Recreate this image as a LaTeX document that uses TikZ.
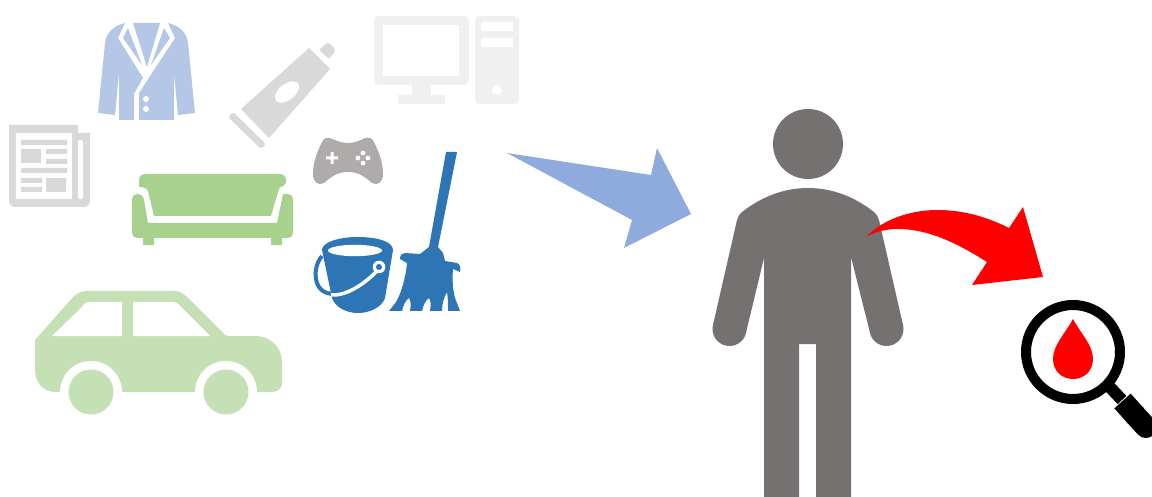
\documentclass[tikz,border=0pt]{standalone}
\usepackage{xcolor}
\usepackage{tikz}
\definecolor{jacketblue}{RGB}{180,199,231}
\definecolor{sofagreen}{RGB}{169,209,142}
\definecolor{cargreen}{RGB}{197,224,180}
\definecolor{papergray}{RGB}{217,217,217}
\definecolor{pcgray}{RGB}{240,240,240}
\definecolor{padgray}{RGB}{175,171,171}
\definecolor{mopblue}{RGB}{46,117,182}
\definecolor{bigarrow}{RGB}{143,170,220}
\definecolor{persongray}{RGB}{118,113,113}

\begin{document}
\begin{tikzpicture}[
  x=1pt, y=-1pt,
  jacketshape/.style={fill=jacketblue},
  sofashape/.style={fill=sofagreen},
  carshape/.style={fill=cargreen},
  papershape/.style={fill=papergray},
  pcshape/.style={fill=pcgray},
  padshape/.style={fill=padgray},
  mopshape/.style={fill=mopblue},
  personshape/.style={fill=persongray},
  blank/.style={fill=white}
]
  \useasboundingbox (0,0) rectangle (1152,497);

  \fill[jacketshape] (125,23) .. controls (113,26) and (106,33) .. (105,43) -- (98,113) -- (115,115) -- (119,73) -- (119,120) -- (134,120) -- (134,94) -- (143,78) -- (118,38) -- cycle;
  \fill[jacketshape] (168,23) .. controls (180,26) and (187,33) .. (188,43) -- (195,113) -- (178,115) -- (174,73) -- (174,120) -- (139,120) -- (139,93) -- (175,38) -- cycle;
  \fill[jacketshape] (133,23) -- (160,23) -- (147,67) -- cycle;
  \fill[jacketshape] (128,28) -- (123,38) -- (142,65) -- cycle;
  \fill[jacketshape] (164,28) -- (170,38) -- (151,65) -- cycle;
  \fill[blank] (146,99) circle (3) (146,109) circle (3);

  \fill[papershape] (9,125) -- (78,125) -- (78,133) -- (90,133) [rounded corners=6] -- (90,207) -- (9,207) -- (9,190) [sharp corners] -- cycle;
  \fill[blank] (16,133) rectangle (72,199);
  \fill[blank, rounded corners=2] (78,140) -- (83,140) -- (83,199) -- (78,199) -- cycle;
  \fill[papershape] (21,140) rectangle (67,145)
    (21,149) rectangle (41,163)
    (46,149) rectangle (67,154)
    (46,159) rectangle (67,164)
    (21,168) rectangle (67,173)
    (21,178) rectangle (42,183)
    (21,187) rectangle (42,192)
    (46,178) rectangle (66,192);

  \fill[sofashape, rounded corners=6] (139,187) -- (139,174) -- (286,174) -- (286,187) [sharp corners] .. controls (280,187) and (279,189) .. (278,192) -- (271,216) -- (154,216) -- (148,191) .. controls (147,189) and (145,187) .. (139,187) -- cycle;
  \fill[sofashape, rounded corners=5] (132,238) -- (132,194) -- (143,194) [sharp corners] -- (148,223) -- (277,223) -- (283,194) [rounded corners=5] -- (293,194) -- (293,238) -- cycle;
  \fill[sofashape] (143,236) rectangle (154,245) (271,236) rectangle (282,245);

  \fill[carshape] (35,340) -- (73,297) .. controls (77,293) and (82,291) .. (88,291) -- (173,291) .. controls (179,291) and (183,293) .. (187,297) -- (223,333) .. controls (225,335) and (226,336) .. (228,336) -- (255,336) .. controls (270,336) and (282,347) .. (282,362) -- (282,383) .. controls (282,388) and (278,392) .. (272,392) -- (55,392) .. controls (43,392) and (35,382) .. (35,370) -- cycle;
  \fill[blank] (52,336) -- (82,307) .. controls (84,304) and (86,302) .. (88,302) -- (122,302) -- (122,336) -- cycle;
  \fill[blank] (133,302) -- (173,302) .. controls (175,302) and (177,303) .. (178,304) -- (210,336) -- (133,336) -- cycle;
  \fill[blank] (91,392) circle (31) (226,392) circle (31);
  \fill[carshape] (91,392) circle (22.5) (226,392) circle (22.5);

  \fill[papershape] (309,48) -- (330,69) -- (269,138) -- (241,109) -- cycle;
  \fill[papershape, rounded corners=2] (328,42) -- (336,50) -- (329,59) -- (319,50) -- cycle;
  \fill[papershape, rounded corners=2.5] (233,112) -- (266,144) -- (261,149) -- (228,117) -- cycle;
  \fill[blank] (287,92) circle [x radius=14, y radius=8, rotate=38];

  \fill[pcshape, rounded corners=5] (374,16) rectangle (469,85);
  \fill[blank] (383,25) rectangle (459,76);
  \fill[pcshape] (412,85) rectangle (431,95) (398,95) rectangle (445,104);
  \fill[pcshape, rounded corners=5] (475,16) rectangle (519,104);
  \fill[blank] (481,22) rectangle (513,31) (481,38) rectangle (513,47) (497,90) circle (5);

  \fill[padshape] (330,138) .. controls (337,141) and (342,143) .. (348,143) .. controls (354,143) and (359,141) .. (365,138) .. controls (369,137) and (372,138) .. (374,142) .. controls (379,152) and (383,163) .. (383,174) .. controls (383,182) and (378,186) .. (372,183) .. controls (364,176) and (358,172) .. (348,172) .. controls (338,172) and (332,176) .. (324,183) .. controls (318,186) and (313,182) .. (313,174) .. controls (313,163) and (317,152) .. (322,142) .. controls (324,138) and (327,137) .. (330,138) -- cycle;
  \fill[blank] (326,156.5) rectangle (338,159.5) (330.5,152) rectangle (333.5,164);
  \fill[blank] (363,153) circle (2.4) (363,163) circle (2.4) (358,158) circle (2.4) (368,158) circle (2.4);

  \fill[mopshape] (446,152) -- (457,152) -- (438,247) -- (443,253) -- (445,261) -- (457,263) .. controls (460,264) and (461,268) .. (460,272) -- (453,269) .. controls (452,280) and (453,290) .. (455,298) -- (460,311) -- (448,311) .. controls (448,303) and (448,297) .. (447,292) .. controls (444,297) and (442,304) .. (442,311) -- (430,311) .. controls (431,305) and (431,301) .. (429,298) .. controls (425,301) and (423,306) .. (422,311) -- (410,311) .. controls (411,305) and (411,301) .. (409,298) .. controls (405,301) and (403,306) .. (402,311) -- (389,311) -- (396,302) .. controls (402,292) and (406,275) .. (407,263) -- (400,259) .. controls (400,255) and (402,253) .. (405,253) -- (420,254) -- (429,247) -- cycle;

  \fill[mopshape] (322,250) .. controls (322,242) and (340,237) .. (357,237) .. controls (376,237) and (393,241) .. (393,250) -- (385,298) .. controls (382,307) and (370,313) .. (358,313) .. controls (346,313) and (335,307) .. (332,298) -- cycle;
  \fill[blank] (355,250.5) circle [x radius=27, y radius=5.7];
  \draw[mopblue, line width=4] (322,256) .. controls (316,263) and (314,274) .. (317,283) .. controls (320,291) and (325,293) .. (332,294);
  \draw[white, line width=3.5] (331,295) .. controls (345,296) and (362,286) .. (376,272);
  \fill[blank] (379,267) circle (6.3);
  \fill[mopshape] (379,267) circle (3);

  \fill[bigarrow] (507,153) -- (651,175) -- (657,148) -- (691,214) -- (624,248) -- (632,220) -- cycle;

  \fill[personshape] (808,144) circle (35);
  \fill[personshape] (808,188) .. controls (782,188) and (760,198) .. (742,212) .. controls (739,215) and (738,217) .. (737,220) -- (713,325) -- (746,332.7) -- (764,258) -- (764,497) -- (799,497) -- (799,344) -- (816,344) -- (816,497) -- (851,497) -- (851,257) -- (870,332.7) -- (903,325) -- (879,220) .. controls (878,217) and (877,215) .. (874,212) .. controls (856,198) and (834,188) .. (808,188) -- cycle;
  \fill[personshape] (729.5,329) circle (17) (886.5,329) circle (17);

  \fill[red] (866,237) .. controls (885,217) and (915,210) .. (937,210) .. controls (962,210) and (985,216) .. (1009,228) -- (1023,207) -- (1043,277) -- (972,285) -- (987,262) .. controls (960,245) and (930,229) .. (898,229) .. controls (885,229) and (875,232) .. (866,237) -- cycle;

  \draw[black, line width=10] (1073,352) circle (47);
  \draw[black, line width=12] (1106,383) -- (1122,400);
  \draw[black, line width=22] (1122.5,401) -- (1136,416);
  \draw[black, line width=22, line cap=round] (1135,415) -- (1146,427);
  \fill[red] (1073,319) .. controls (1065,334) and (1053,345) .. (1053,359) .. controls (1053,371) and (1062,379) .. (1073,379) .. controls (1084,379) and (1093,371) .. (1093,359) .. controls (1093,345) and (1081,334) .. (1073,319) -- cycle;
\end{tikzpicture}
\end{document}
